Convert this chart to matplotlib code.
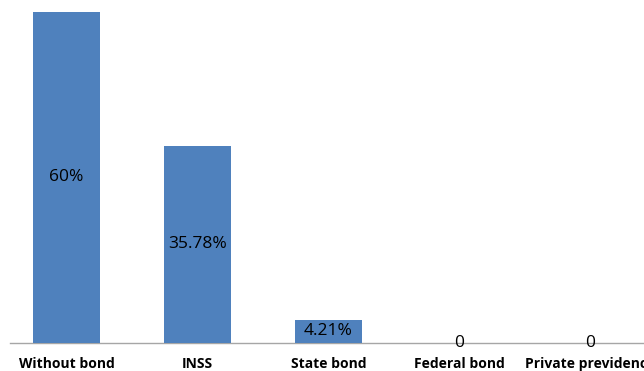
import matplotlib.pyplot as plt

categories = ["Without bond", "INSS", "State bond", "Federal bond", "Private previdence"]
values = [60, 35.78, 4.21, 0, 0]
value_labels = ["60%", "35.78%", "4.21%", "0", "0"]

plt.rcParams["font.family"] = ["Open Sans", "DejaVu Sans"]

fig = plt.figure(figsize=(6.44, 3.71), dpi=100)
ax = fig.add_axes([10 / 644, 28 / 371, 634 / 644, 343 / 371])

x = range(len(categories))
ax.bar(x, values, width=0.51, color="#4F81BD", zorder=2)

for xi, v, lab in zip(x, values, value_labels):
    ax.text(xi, v / 2, lab, ha="center", va="center", fontsize=12.5, color="black", zorder=3)

ax.set_xlim(-0.431, 4.408)
ax.set_ylim(0, 62.17)

for s in ["top", "right", "left"]:
    ax.spines[s].set_visible(False)
ax.spines["bottom"].set_color("#A6A6A6")
ax.spines["bottom"].set_linewidth(1)
ax.spines["bottom"].set_zorder(1)
ax.set_yticks([])
ax.set_xticks(list(x))
ax.set_xticklabels(categories, fontsize=10, fontweight="bold")
ax.tick_params(axis="x", length=0, pad=10)

fig.savefig("out.png", dpi=100)
